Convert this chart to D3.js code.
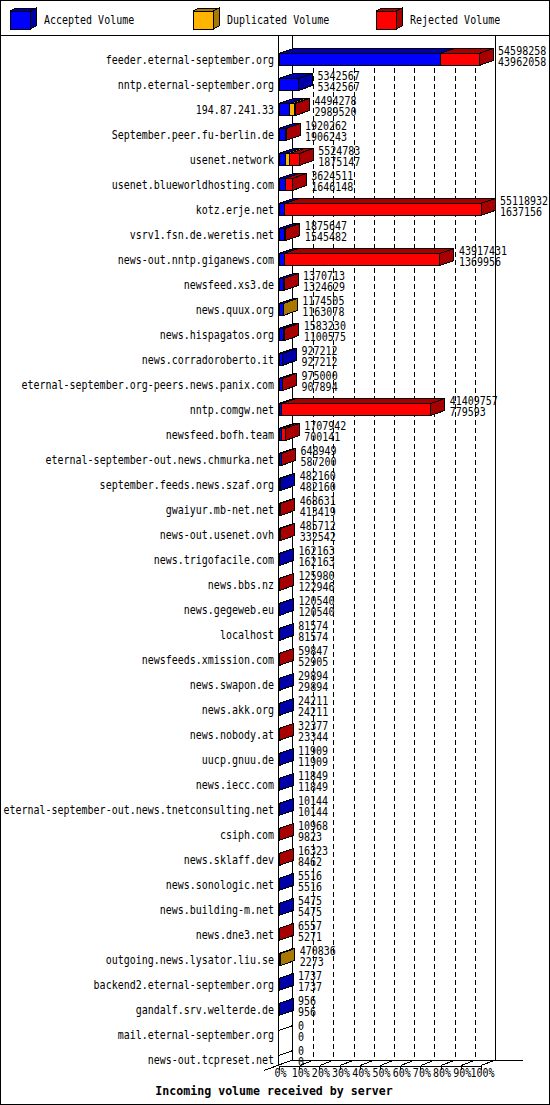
<!DOCTYPE html>
<html lang="en">
<head>
    <meta charset="UTF-8">
    <title>Incoming volume received by server</title>
    <script src="https://d3js.org/d3.v7.min.js"></script>
    <style>
        body { margin: 0; background: #fff; }
        svg { shape-rendering: crispEdges; }
        text { font-family: "DejaVu Sans Mono", monospace; font-size: 10px; fill: #000; }
        .title { font-weight: bold; font-size: 11.6px; }
    </style>
</head>
<body>
<script>

    // data
    var categories = [
        "feeder.eternal-september.org", "nntp.eternal-september.org", "194.87.241.33",
        "September.peer.fu-berlin.de", "usenet.network", "usenet.blueworldhosting.com",
        "kotz.erje.net", "vsrv1.fsn.de.weretis.net", "news-out.nntp.giganews.com",
        "newsfeed.xs3.de", "news.quux.org", "news.hispagatos.org", "news.corradoroberto.it",
        "eternal-september.org-peers.news.panix.com", "nntp.comgw.net", "newsfeed.bofh.team",
        "eternal-september-out.news.chmurka.net", "september.feeds.news.szaf.org",
        "gwaiyur.mb-net.net", "news-out.usenet.ovh", "news.trigofacile.com", "news.bbs.nz",
        "news.gegeweb.eu", "localhost", "newsfeeds.xmission.com", "news.swapon.de",
        "news.akk.org", "news.nobody.at", "uucp.gnuu.de", "news.iecc.com",
        "eternal-september-out.news.tnetconsulting.net", "csiph.com", "news.sklaff.dev",
        "news.sonologic.net", "news.building-m.net", "news.dne3.net",
        "outgoing.news.lysator.liu.se", "backend2.eternal-september.org",
        "gandalf.srv.welterde.de", "mail.eternal-september.org", "news-out.tcpreset.net"
    ];

    var totals = [
        54598258, 5342567, 4494278, 1920262, 5524783, 3624511, 55118932, 1875647, 43917431,
        1370713, 1174505, 1583230, 927212, 975000, 41409757, 1707942, 648949, 482160,
        468631, 485712, 162163, 125980, 120540, 81574, 59847, 29894, 24211, 32377, 11909,
        11849, 10144, 10968, 16323, 5516, 5475, 6557, 470836, 1737, 956, 0, 0
    ];

    var accepted = [
        43962058, 5342567, 2989520, 1906243, 1875147, 1646148, 1637156, 1545482, 1369956,
        1324629, 1163078, 1100575, 927212, 907894, 779593, 700141, 587200, 482160,
        413419, 332542, 162163, 122946, 120540, 81574, 52905, 29894, 24211, 23344, 11909,
        11849, 10144, 9823, 8462, 5516, 5475, 5271, 2273, 1737, 956, 0, 0
    ];

    var duplicated = [
        0, 0, 1150000, 0, 1100000, 0, 0, 0, 0,
        0, 11427, 0, 0, 0, 0, 0, 0, 0,
        0, 0, 0, 0, 0, 0, 0, 0, 0, 0, 0,
        0, 0, 0, 0, 0, 0, 0, 468563, 0, 0, 0, 0
    ];

    var rejected = [
        10636200, 0, 354758, 14019, 2549636, 1978363, 53481776, 330165, 42547475,
        46084, 0, 482655, 0, 67106, 40630164, 1007801, 61749, 0,
        55212, 153170, 0, 3034, 0, 0, 6942, 0, 0, 9033, 0,
        0, 0, 1145, 7861, 0, 0, 1286, 0, 0, 0, 0, 0
    ];

    var seriesNames = ["Accepted Volume", "Duplicated Volume", "Rejected Volume"];
    var pctTicks = [0, 10, 20, 30, 40, 50, 60, 70, 80, 90, 100];

    var frontColors = ["#0000ff", "#ffb400", "#ff0000"];
    var sideColors = ["#0000a8", "#a87800", "#a80000"];

    var w = 550, h = 1105;
    var dx = 14, dy = 5, barH = 12;

    var svg = d3.select("body").append("svg")
        .attr("width", w)
        .attr("height", h);

    var x = d3.scaleLinear().domain([0, d3.max(totals)]).range([279, 481]);
    var xp = d3.scaleLinear().domain([0, 100]).range([279, 481]);
    var y = d3.scaleBand().domain(categories).range([40, 1065]);

    function poly(g, pts, fill) {
        g.append("polygon")
            .attr("points", pts.map(function (p) { return p.join(","); }).join(" "))
            .attr("fill", fill)
            .attr("stroke", "#000")
            .attr("stroke-width", 1);
    }

    function line(g, x1, y1, x2, y2, dash) {
        var l = g.append("line")
            .attr("x1", x1).attr("y1", y1)
            .attr("x2", x2).attr("y2", y2)
            .attr("stroke", "#000")
            .attr("stroke-width", 1);
        if (dash) l.attr("stroke-dasharray", dash);
        return l;
    }

    function label(g, str, tx, ty, anchor, cls) {
        var t = g.append("text")
            .attr("transform", "translate(" + tx + "," + ty + ") scale(1,1.2)")
            .attr("text-anchor", anchor)
            .text(str);
        if (cls) t.attr("class", cls);
        return t;
    }

    // frame + legend
    svg.append("rect")
        .attr("x", 0.5).attr("y", 0.5)
        .attr("width", w - 1).attr("height", h - 1)
        .attr("fill", "none").attr("stroke", "#000");
    line(svg, 0, 35.5, w, 35.5);

    var legendX = [10, 193, 376];
    var legend = svg.append("g");
    seriesNames.forEach(function (name, i) {
        var lx = legendX[i];
        poly(legend, [[lx + 20, 11], [lx + 26, 8], [lx + 26, 26], [lx + 20, 29]], sideColors[i]);
        poly(legend, [[lx, 11], [lx + 20, 11], [lx + 26, 8], [lx + 6, 8]], sideColors[i]);
        poly(legend, [[lx, 11], [lx + 20, 11], [lx + 20, 29], [lx, 29]], frontColors[i]);
        label(legend, name, lx + 34, 24, "start");
    });

    // back wall
    var wall = svg.append("g");
    pctTicks.slice(1, -1).forEach(function (p) {
        line(wall, xp(p) + dx + 0.5, 60, xp(p) + dx + 0.5, 1060, "5,3");
    });
    line(wall, 292.5, 35.5, 292.5, 1060);
    line(wall, xp(100) + dx + 0.5, 35.5, xp(100) + dx + 0.5, 1060);

    // floor
    var floorY = 1065.5;
    line(wall, 292.5, floorY - dy - 0.5, 523, floorY - dy - 0.5);
    line(wall, 264, floorY + dy, 292.5, floorY - dy - 0.5);
    line(wall, xp(100), floorY, xp(100) + dx + 0.5, floorY - dy - 0.5);
    pctTicks.slice(1, -1).forEach(function (p) {
        line(wall, xp(p) + 0.5, floorY, xp(p) + dx + 0.5, floorY - dy - 0.5);
    });

    // bars
    var rows = categories.map(function (c, i) {
        return {name: c, accepted: accepted[i], duplicated: duplicated[i], rejected: rejected[i]};
    });
    var stacked = d3.stack().keys(["accepted", "duplicated", "rejected"])(rows);

    var bars = svg.append("g");
    categories.forEach(function (c, i) {
        var g = bars.append("g");
        var yt = y(c) + 13.5;
        var yb = yt + barH;
        if (totals[i] === 0) {
            line(g, 279, yt + 2, 279 + dx, yt + 2 - dy);
            return;
        }
        stacked.forEach(function (s, k) {
            var x0 = x(s[i][0]), x1 = x(s[i][1]);
            if (x1 - x0 <= 0) return;
            poly(g, [[x1, yt], [x1 + dx, yt - dy], [x1 + dx, yb - dy], [x1, yb]], sideColors[k]);
            poly(g, [[x0, yt], [x1, yt], [x1 + dx, yt - dy], [x0 + dx, yt - dy]], sideColors[k]);
            poly(g, [[x0, yt], [x1, yt], [x1, yb], [x0, yb]], frontColors[k]);
        });
    });

    // front left axis
    line(svg, 278.5, 35.5, 278.5, floorY);

    // percentage axis
    var axis = svg.append("g")
        .attr("transform", "translate(0," + floorY + ")")
        .call(d3.axisBottom(xp)
            .tickValues(pctTicks)
            .tickFormat(function (d) { return d + "%"; })
            .tickSize(4)
            .tickSizeOuter(0));
    axis.attr("font-family", null).attr("font-size", null);
    axis.selectAll(".tick text")
        .attr("y", null).attr("dy", null)
        .attr("transform", "translate(1,11.5) scale(1,1.2)");

    // texts
    var texts = svg.append("g");
    categories.forEach(function (c, i) {
        var yc = y(c) + 13.5 + barH / 2;
        label(texts, c, 274, yc + 4, "end");
        var tx = x(totals[i]) + dx + 5;
        label(texts, totals[i], tx, yc - 5, "start");
        label(texts, accepted[i], tx, yc + 6.5, "start");
    });

    svg.append("text")
        .attr("class", "title")
        .attr("x", 274)
        .attr("y", 1095)
        .attr("text-anchor", "middle")
        .text("Incoming volume received by server");

</script>
</body>
</html>
